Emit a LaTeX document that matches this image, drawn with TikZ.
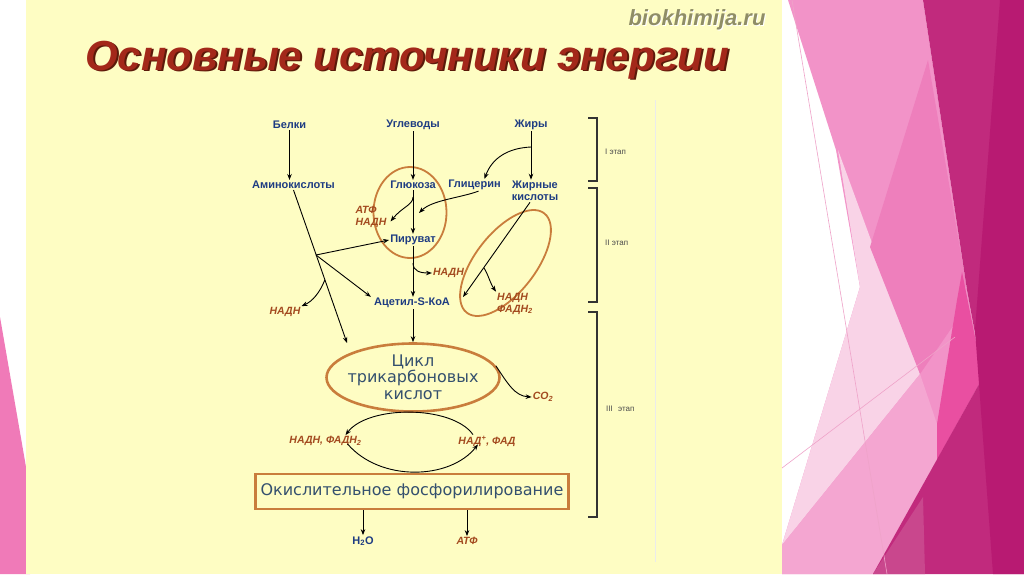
\documentclass[tikz,border=0pt]{standalone}
\usepackage{fontspec}
\setmainfont{Liberation Sans}
\newfontfamily\dvs{DejaVu Sans}
\usetikzlibrary{arrows.meta,shapes.geometric}
\definecolor{ybg}{HTML}{FEFDC3}
\definecolor{navy}{HTML}{1E3C82}
\definecolor{brn}{HTML}{A34A1F}
\definecolor{orng}{HTML}{C97D3C}
\definecolor{slate}{HTML}{34506E}
\definecolor{ttl}{HTML}{A3281A}
\definecolor{ttlsh}{HTML}{5C1A0A}
\definecolor{wmk}{HTML}{8F8D66}
\definecolor{pkA}{HTML}{F293C8}
\definecolor{pkL}{HTML}{F9D3E7}
\definecolor{pkL2}{HTML}{F4A6D1}
\definecolor{pkM}{HTML}{EE7FBC}
\definecolor{pkH}{HTML}{E94FA1}
\definecolor{dk1}{HTML}{C12A7D}
\definecolor{dk2}{HTML}{B81A72}
\definecolor{dk3}{HTML}{C9478D}
\definecolor{pkLeft}{HTML}{F07AB8}
\definecolor{pkline}{HTML}{EFA3C9}
\begin{document}
\begin{tikzpicture}[x=1pt,y=-1pt,
  lbl/.style={font=\fontsize{11}{12.5}\selectfont\bfseries, text=navy, inner sep=1pt, align=center},
  prod/.style={font=\fontsize{10.5}{12}\selectfont\bfseries\itshape, text=brn, inner sep=1pt, align=left},
  stg/.style={font=\fontsize{8}{9}\selectfont, text=black!70, inner sep=1pt, anchor=west},
  arr/.style={-{Stealth[length=6pt,width=4.5pt]}, line width=0.9pt, black},
  oring/.style={draw=orng, line width=1.8pt, ellipse, inner sep=0pt},
  brk/.style={line width=1.2pt, black!80}
]
\useasboundingbox (0,0) rectangle (1024,574);
% backgrounds
\fill[white] (0,0) rectangle (1024,574);
\fill[pkLeft] (0,317) -- (30,490) -- (30,574) -- (0,574) -- cycle;
\fill[ybg] (26,0) rectangle (782,574);
% right decorative facets
\fill[pkA] (788,0) -- (923,0) -- (967,290) -- (983,377) -- (873,574) -- (782,574) -- (782,545) -- (860,287) -- (836,150) -- cycle;
\fill[pkL] (838,150) -- (920,374) -- (782,545) -- (860,287) -- cycle;
\fill[pkL2] (782,545) -- (920,374) -- (937,424) -- (937,460) -- (873,574) -- (782,574) -- cycle;
\fill[pkM] (928,60) -- (966,284) -- (957,320) -- (920,374) -- (870,247) -- cycle;
\fill[pkH] (962,272) -- (983,377) -- (937,460) -- (937,424) -- (957,300) -- cycle;
\fill[dk1] (923,0) -- (1024,0) -- (1024,574) -- (873,574) -- (983,377) -- (967,290) -- cycle;
\fill[dk2] (1000,0) -- (1024,0) -- (1024,574) -- (993,574) -- (975,330) -- cycle;
\fill[dk3] (873,574) -- (923,497) -- (925,574) -- cycle;
\draw[draw=pkline, line width=0.6pt] (792,0) -- (887,574);
\draw[draw=pkline, line width=0.6pt] (782,468) -- (955,337);
% faint scan line
\draw[black!8, line width=0.8pt] (655,100) -- (655,562);

% title and watermark
\node[font=\fontsize{22}{24}\selectfont\bfseries\itshape, text=white, anchor=base] (wmks) at (698,26) {biokhimija.ru};
\node[font=\fontsize{22}{24}\selectfont\bfseries\itshape, text=wmk, anchor=base] (wmkt) at (697,25) {biokhimija.ru};
\node[font=\fontsize{42}{46}\selectfont\bfseries\itshape, text=ttlsh, anchor=base] (titles) at (409,71.5) {Основные источники энергии};
\node[font=\fontsize{42}{46}\selectfont\bfseries\itshape, text=ttl, anchor=base] (title) at (407,70) {Основные источники энергии};

% stage brackets
\draw[brk] (588,118) -- (597,118) -- (597,181) -- (588,181);
\draw[brk] (588,188) -- (597,188) -- (597,302) -- (588,302);
\draw[brk] (588,312) -- (597,312) -- (597,517) -- (588,517);
\node[stg] (s1) at (604,152) {I этап};
\node[stg] (s2) at (604,243) {II этап};
\node[stg] (s3) at (605,409) {III\hspace{3pt} этап};

% ellipses
\node[oring, minimum width=73pt, minimum height=91pt] (ellg) at (410,212.5) {};
\node[oring, minimum width=126pt, minimum height=60pt, rotate=52] (ellf) at (505.5,263) {};
\node[draw=orng, line width=2.6pt, ellipse, inner sep=0pt, minimum width=173pt, minimum height=68pt] (tca) at (413,377.5) {};
\node[font=\dvs\fontsize{16}{16.5}\selectfont, text=slate, align=center, inner sep=0pt] (tcat) at (413,377) {Цикл\\трикарбоновых\\кислот};
\node[draw=orng, line width=2.2pt, minimum width=313pt, minimum height=35pt, inner sep=0pt, font=\dvs\fontsize{16}{18}\selectfont, text=slate] (oxbox) at (412,491.5) {Окислительное фосфорилирование};

% labels
\node[lbl] (belki) at (289.5,125) {Белки};
\node[lbl] (ugl) at (413,125) {Углеводы};
\node[lbl] (zhiry) at (531,125) {Жиры};
\node[lbl] (amino) at (293.5,185) {Аминокислоты};
\node[lbl] (gluc) at (413,185) {Глюкоза};
\node[lbl] (glyc) at (474.5,185) {Глицерин};
\node[lbl] (fa) at (535,191) {Жирные\\кислоты};
\node[prod] (atf1) at (371,216.5) {АТФ\\НАДН};
\node[lbl] (pyr) at (413,240) {Пируват};
\node[prod] (nadh1) at (448.5,273) {НАДН};
\node[lbl] (acet) at (412,303) {Ацетил-S-КоА};
\node[prod] (nadh2) at (285,312) {НАДН};
\node[prod] (nadh3) at (515,303.5) {НАДН\\ФАДН\textsubscript{2}};
\node[prod] (co2) at (543,397) {CO\textsubscript{2}};
\node[prod] (nadh4) at (325.5,441) {НАДН, ФАДН\textsubscript{2}};
\node[prod] (nadp) at (487,441) {НАД\textsuperscript{+}, ФАД};
\node[lbl] (h2o) at (363,541) {H\textsubscript{2}O};
\node[prod] (atf2) at (467,541) {АТФ};

% junctions and free ends
\coordinate (j1) at (531,147);
\coordinate (j2) at (413,197);
\coordinate (g2) at (419,213);
\coordinate (j3) at (413,263);
\coordinate (tcain) at (347,343);
\coordinate (j4) at (316,255);
\coordinate (j5) at (324.8,280);
\coordinate (acout) at (463,297);
\coordinate (j6) at (484,268);

% connectors
\draw[arr] (belki.south) -- (belki.south |- amino.north);
\draw[arr] (ugl.south) -- (ugl.south |- gluc.north);
\draw[arr] (zhiry.south) -- (zhiry.south |- fa.north);
\draw[arr] (j1) .. controls (508,148) and (492,158) .. ([xshift=10pt]glyc.north);
\draw[arr] (gluc.south) -- (gluc.south |- pyr.north);
\draw[arr] (j2) .. controls (413,205) and (402,207) .. ([xshift=3pt,yshift=-5pt]atf1.east);
\draw[arr] ([xshift=4pt]glyc.south) .. controls (460,198) and (432,200) .. (g2);
\draw[arr] (pyr.south) -- (pyr.south |- acet.north);
\draw[arr] (j3) .. controls (413,271) and (420,273) .. (nadh1.west);
\draw[arr] (amino.south) -- (tcain);
\draw[arr] (j4) -- (pyr.west);
\draw[arr] (j4) -- ([xshift=-2pt]acet.north west);
\draw[arr] (j5) .. controls (320,292) and (313,301) .. (nadh2.north east);
\draw[arr] (tca.north |- acet.south) -- (tca.north);
\draw[arr] ([xshift=-5pt]fa.south) -- (acout);
\draw[arr] (j6) .. controls (488,274) and (490,283) .. (nadh3.north west);
\draw[arr] (tca.8) .. controls (508,384) and (515,396) .. (co2.west);
\draw[arr] ([xshift=-14pt]nadp.north) .. controls (452,405) and (368,405) .. ([xshift=20pt]nadh4.north);
\draw[arr] ([xshift=22pt,yshift=3pt]nadh4.south) .. controls (380,482) and (450,480) .. ([xshift=-9pt,yshift=3pt]nadp.south);
\draw[arr] (h2o.north |- oxbox.south) -- (h2o.north);
\draw[arr] (atf2.north |- oxbox.south) -- (atf2.north);
\end{tikzpicture}
\end{document}
